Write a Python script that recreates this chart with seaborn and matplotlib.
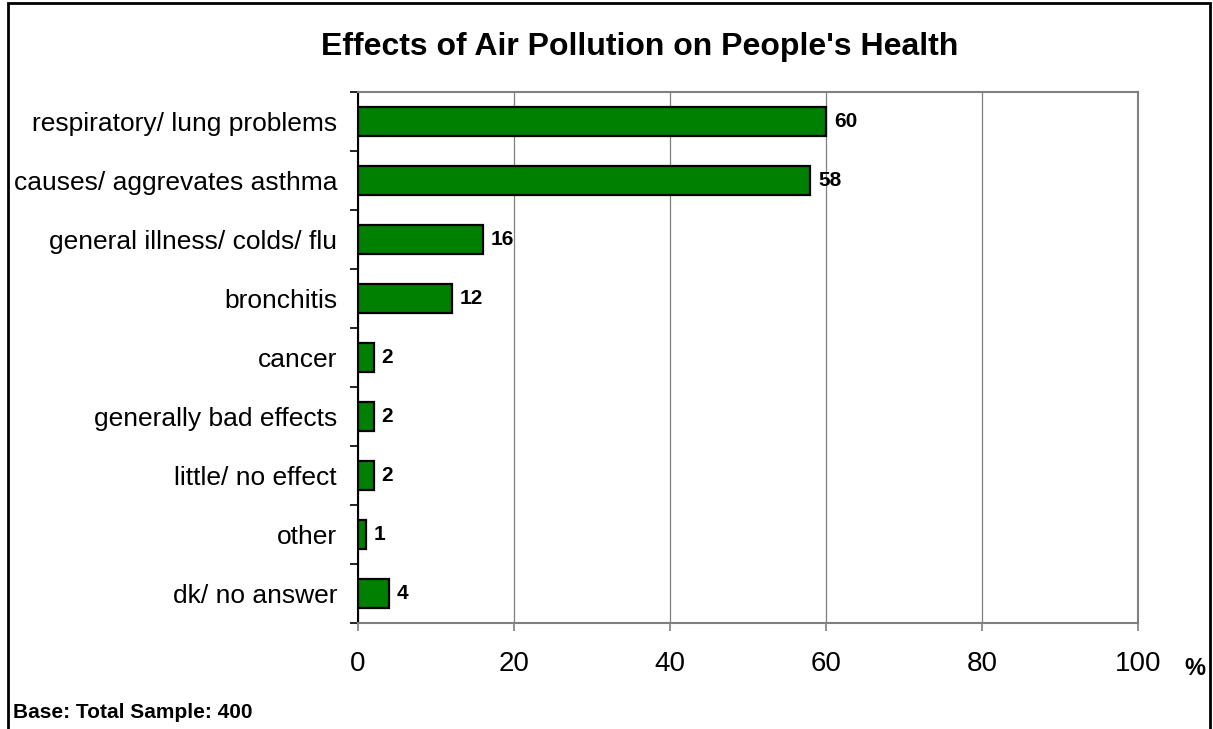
import pandas as pd
import matplotlib.pyplot as plt
import matplotlib.patches as mpatches
import numpy as np
import seaborn as sns

categorias = ['respiratory/ lung problems', 'causes/ aggrevates asthma',
              'general illness/ colds/ flu', 'bronchitis', 'cancer',
              'generally bad effects', 'little/ no effect', 'other', 'dk/ no answer']
porcentajes = [60, 58, 16, 12, 2, 2, 2, 1, 4]
ticks_x = [0, 20, 40, 60, 80, 100]

datos = pd.DataFrame({'categoria': categorias, 'valor': porcentajes})

sns.set_style('white')
plt.rcParams['font.family'] = ['Liberation Sans', 'DejaVu Sans']
plt.rcParams['text.color'] = 'black'
plt.rcParams['xtick.color'] = 'black'
plt.rcParams['ytick.color'] = 'black'
plt.rcParams['xtick.bottom'] = True
plt.rcParams['ytick.left'] = True

fig = plt.figure(figsize=(12.13, 7.29), dpi=100)
ax = fig.add_axes([0.2951, 0.1454, 0.6431, 0.7284])

sns.barplot(data=datos, x='valor', y='categoria', orient='h', color='#008000',
            edgecolor='black', linewidth=1.6, width=0.5, saturation=1, ax=ax, zorder=3)

ax.set_xlim(0, 100)
ax.set_ylim(len(categorias) - 0.5, -0.5)
ax.set_xticks(ticks_x)
ax.set_xticklabels([str(t) for t in ticks_x], fontsize=20)
ax.set_yticks(range(len(categorias)))
ax.set_yticklabels(categorias, fontsize=19)
ax.set_yticks(np.arange(-0.5, len(categorias), 1), minor=True)
ax.tick_params(axis='y', which='major', length=0, pad=15, labelcolor='black')
ax.tick_params(axis='y', which='minor', left=True, length=6, width=1.2, color='black', direction='out')
ax.tick_params(axis='x', bottom=True, length=6, width=1.2, color='#808080', direction='out',
               pad=14, labelcolor='black')
ax.set_xlabel('')
ax.set_ylabel('')

ax.xaxis.grid(True, color='#808080', lw=0.9, zorder=0)
ax.set_axisbelow(True)
for lado in ['top', 'right', 'bottom']:
    ax.spines[lado].set_color('#808080')
    ax.spines[lado].set_linewidth(1.5)
ax.spines['left'].set_color('black')
ax.spines['left'].set_linewidth(1.5)

for i, v in enumerate(porcentajes):
    ax.text(v + 1.0, i, str(v), va='center', ha='left', fontsize=15, fontweight='bold',
            color='black')

fig.text(0.527, 0.936, "Effects of Air Pollution on People's Health", ha='center', va='center',
         fontsize=23, fontweight='bold', color='black')
fig.text(0.985, 0.083, '%', ha='center', va='center', fontsize=17, fontweight='bold', color='black')
fig.text(0.011, 0.022, 'Base: Total Sample: 400', ha='left', va='center', fontsize=15,
         fontweight='bold', color='black')

# marco exterior
marco = mpatches.Rectangle((0.0068, -0.05), 0.9905, 1.046, transform=fig.transFigure,
                           fill=False, edgecolor='black', lw=2, zorder=10)
fig.patches.append(marco)

fig.savefig('out.png', dpi=100)
